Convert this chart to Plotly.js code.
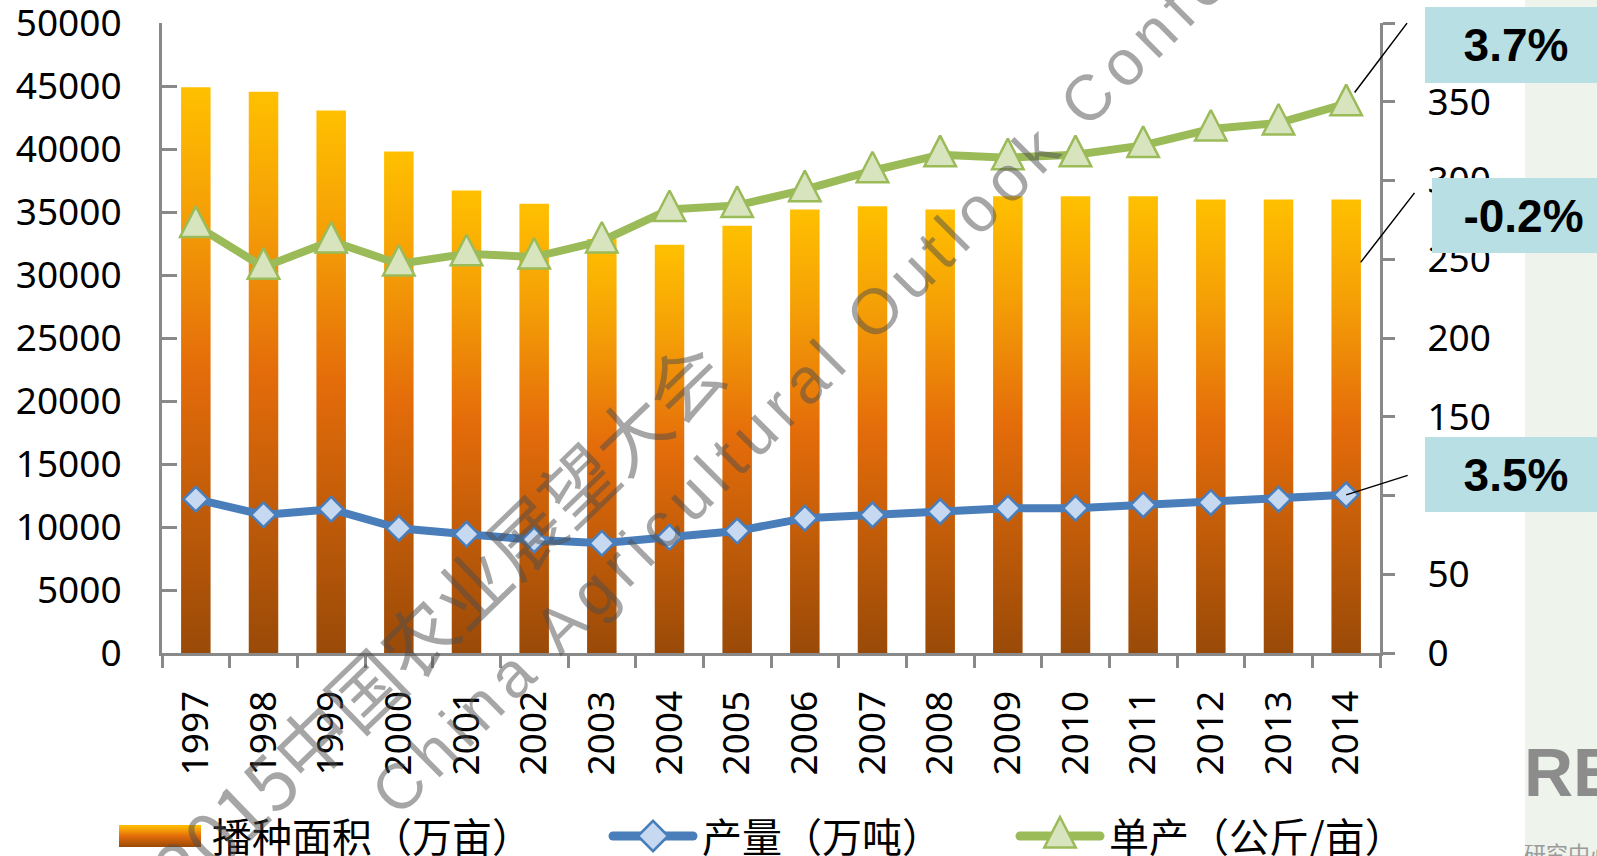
<!DOCTYPE html>
<html>
<head>
<meta charset="utf-8">
<script src="https://cdn.plot.ly/plotly-3.0.1.min.js"></script>
<style>
html,body{margin:0;padding:0;background:#ffffff;}
#chart{width:1597px;height:856px;}
</style>
</head>
<body>
<div id="chart"></div>
<script>
// ---------------- data ----------------
const years = ['1997','1998','1999','2000','2001','2002','2003','2004','2005',
               '2006','2007','2008','2009','2010','2011','2012','2013','2014'];
const areaWanMu = [44900, 44550, 43050, 39800, 36700, 35650, 32850, 32400, 33900,
                   35200, 35450, 35200, 36250, 36250, 36250, 36000, 36000, 36000];
const outputWanTon = [12210, 10960, 11410, 9900, 9430, 8980, 8710, 9190, 9690,
                      10700, 10960, 11220, 11490, 11490, 11760, 11940, 12210, 12550];
const yieldKgPerMu = [271.5, 245.0, 261.6, 247.0, 253.5, 251.4, 261.6, 281.6, 284.2,
                      294.2, 306.2, 316.4, 314.5, 316.4, 322.3, 332.7, 336.5, 348.8];
const seriesNames = ['播种面积（万亩）', '产量（万吨）', '单产（公斤/亩）'];
const growthLabels = ['3.7%', '-0.2%', '3.5%'];
const rightTickVals = [0, 50, 100, 150, 200, 250, 300, 350, 400];
const rightTickText = ['0', '50', '100', '150', '200', '250', '300', '350', ''];
const watermarkCn = '2015中国农业展望大会';
const watermarkEn = 'China Agricultural Outlook Conference';
const logoText = 'RE';
const logoSubText = '研究中心';

// ---------------- styling ----------------
const AXIS_GRAY = '#898989';
const TICK_FONT = {family: 'Noto Sans, Liberation Sans, sans-serif', size: 37, color: '#000'};
const BLUE = '#4a7ebb', BLUE_FILL = '#c6d9f1';
const GREEN = '#9bbb59', GREEN_FILL = '#d7e4bd';
const BOX = '#b8dfe4';
const WM = 'rgba(77,77,77,0.5)';
const lastIdx = years.length - 1;

// plot area in pixels: left 162, right 1380, top 23, bottom 653
const PL = 162, PW = 1218, PT = 23, PH = 630;
const px = v => (v - PL) / PW;
const py = v => (PT + PH - v) / PH;

const traces = [
  {
    type: 'bar', name: seriesNames[0], x: years, y: areaWanMu,
    marker: {color: '#e8800c', line: {width: 0}},
    legendwidth: 387
  },
  {
    type: 'scatter', mode: 'lines+markers', name: seriesNames[1], x: years, y: outputWanTon,
    line: {color: BLUE, width: 8},
    marker: {symbol: 'diamond', size: 19, color: BLUE_FILL, line: {color: BLUE, width: 2.5}},
    legendwidth: 304
  },
  {
    type: 'scatter', mode: 'lines+markers', name: seriesNames[2], x: years, y: yieldKgPerMu,
    yaxis: 'y2',
    line: {color: GREEN, width: 8},
    marker: {symbol: 'triangle-up', size: 30, color: GREEN_FILL, line: {color: GREEN, width: 2.5}},
    legendwidth: 300
  }
];

const boxFont = {family: 'Liberation Sans, Arial, sans-serif', size: 46, color: '#000'};
const leader = {showarrow: true, arrowhead: 0, arrowwidth: 1.5, arrowcolor: '#000', text: '', font: {size: 1}};

const layout = {
  width: 1597, height: 856,
  margin: {l: PL, r: 1597 - PL - PW, t: PT, b: 856 - PT - PH, autoexpand: false},
  paper_bgcolor: '#ffffff', plot_bgcolor: 'rgba(0,0,0,0)',
  bargap: 0.564,
  showlegend: true,
  legend: {
    orientation: 'h', x: px(114), xanchor: 'left', y: py(836), yanchor: 'middle',
    font: {family: 'Noto Sans CJK SC, sans-serif', size: 40, color: '#000'},
    itemwidth: 88, bgcolor: 'rgba(0,0,0,0)', traceorder: 'normal'
  },
  xaxis: {
    type: 'category', range: [-0.5, lastIdx + 0.5],
    showline: true, linecolor: AXIS_GRAY, linewidth: 3,
    ticks: 'outside', ticklen: 12, tickwidth: 3, tickcolor: AXIS_GRAY, tickson: 'boundaries',
    tickangle: -90, tickfont: TICK_FONT, ticklabelstandoff: 20, ticklabeloverflow: 'allow',
    showgrid: false, zeroline: false, fixedrange: true
  },
  yaxis: {
    range: [0, 50000], dtick: 5000, tick0: 0, tickformat: 'd',
    showline: true, linecolor: AXIS_GRAY, linewidth: 3,
    ticks: 'inside', ticklen: 15, tickwidth: 3, tickcolor: AXIS_GRAY,
    tickfont: TICK_FONT, ticklabelstandoff: 30, ticklabeloverflow: 'allow',
    showgrid: false, zeroline: false, fixedrange: true
  },
  yaxis2: {
    overlaying: 'y', side: 'right', range: [0, 400],
    tickmode: 'array', tickvals: rightTickVals, ticktext: rightTickText,
    showline: true, linecolor: AXIS_GRAY, linewidth: 3,
    ticks: 'outside', ticklen: 12, tickwidth: 3, tickcolor: AXIS_GRAY,
    tickfont: TICK_FONT, ticklabelstandoff: 25, ticklabeloverflow: 'allow',
    showgrid: false, zeroline: false, fixedrange: true
  },
  shapes: [
    {type: 'rect', xref: 'paper', yref: 'paper', x0: px(1525), x1: px(1700), y0: py(900), y1: py(-40),
     fillcolor: '#eef3ec', line: {width: 0}, layer: 'below'}
  ],
  annotations: [
    // watermark
    {xref: 'paper', yref: 'paper', x: px(436), y: py(616), xanchor: 'center', yanchor: 'middle',
     text: watermarkCn, textangle: -44, showarrow: false,
     font: {family: 'Noto Sans CJK SC, sans-serif', size: 74, color: WM}},
    {xref: 'paper', yref: 'paper', x: px(872), y: py(314), xanchor: 'center', yanchor: 'middle',
     text: watermarkEn, textangle: -45, showarrow: false,
     font: {family: 'Liberation Sans, Arial, sans-serif', size: 64, color: WM}},
    // background logo
    {xref: 'paper', yref: 'paper', x: px(1522), y: py(772), xanchor: 'left', yanchor: 'middle',
     text: '<b>' + logoText + '</b>', showarrow: false,
     font: {family: 'Liberation Sans, Arial, sans-serif', size: 68, color: '#8c8c8c'}},
    {xref: 'paper', yref: 'paper', x: px(1522), y: py(852), xanchor: 'left', yanchor: 'middle',
     text: logoSubText, showarrow: false,
     font: {family: 'Noto Sans CJK SC, sans-serif', size: 22, color: '#9a9a9a'}},
    // leader lines
    Object.assign({xref: 'x', yref: 'y2', x: lastIdx, y: yieldKgPerMu[lastIdx], ax: 62, ay: -82, standoff: 14}, leader),
    Object.assign({xref: 'x', yref: 'y', x: lastIdx, y: areaWanMu[lastIdx], xshift: 14.5, yshift: -63, ax: 55, ay: -71, standoff: 0}, leader),
    Object.assign({xref: 'x', yref: 'y', x: lastIdx, y: outputWanTon[lastIdx], ax: 63, ay: -20, standoff: 0}, leader),
    // growth boxes
    {xref: 'paper', yref: 'paper', x: px(1425), y: py(7), xanchor: 'left', yanchor: 'top',
     width: 182, height: 76, bgcolor: BOX, borderpad: 0, borderwidth: 0, valign: 'middle', align: 'center',
     text: '<b>' + growthLabels[0] + '</b>', showarrow: false, font: boxFont},
    {xref: 'paper', yref: 'paper', x: px(1432), y: py(178), xanchor: 'left', yanchor: 'top',
     width: 183, height: 75, bgcolor: BOX, borderpad: 0, borderwidth: 0, valign: 'middle', align: 'center',
     text: '<b>' + growthLabels[1] + '</b>', showarrow: false, font: boxFont},
    {xref: 'paper', yref: 'paper', x: px(1425), y: py(437), xanchor: 'left', yanchor: 'top',
     width: 182, height: 75, bgcolor: BOX, borderpad: 0, borderwidth: 0, valign: 'middle', align: 'center',
     text: '<b>' + growthLabels[2] + '</b>', showarrow: false, font: boxFont}
  ]
};

const TRI = 'M0,-19L15.75,11.5H-15.75Z';

function decorate(gd) {
  const ns = 'http://www.w3.org/2000/svg';
  const svg = gd.querySelector('svg.main-svg');
  let defs = svg.querySelector('defs');
  if (!defs) { defs = document.createElementNS(ns, 'defs'); svg.insertBefore(defs, svg.firstChild); }
  const grad = document.createElementNS(ns, 'linearGradient');
  grad.setAttribute('id', 'areaGrad');
  grad.setAttribute('x1', '0'); grad.setAttribute('y1', '0');
  grad.setAttribute('x2', '0'); grad.setAttribute('y2', '1');
  [['0', '#ffc000'], ['0.22', '#f5a006'], ['0.5', '#e46c0a'], ['1', '#9a4a08']].forEach(s => {
    const st = document.createElementNS(ns, 'stop');
    st.setAttribute('offset', s[0]); st.setAttribute('stop-color', s[1]);
    grad.appendChild(st);
  });
  defs.appendChild(grad);

  gd.querySelectorAll('.barlayer .point path').forEach(p => { p.style.fill = 'url(#areaGrad)'; });

  gd.querySelectorAll('.scatterlayer .trace').forEach(t => {
    const d = t.__data__;
    const tr = d && d[0] && d[0].trace;
    if (tr && tr.name === seriesNames[2]) {
      t.querySelectorAll('.points path').forEach(p => p.setAttribute('d', TRI));
    }
  });

  const items = gd.querySelectorAll('.legend .traces');
  items.forEach((it, i) => {
    if (i === 0) {
      it.querySelectorAll('.legendpoints path').forEach(p => {
        p.setAttribute('d', 'M5,-11H87V11H5Z');
        p.setAttribute('transform', 'translate(0,0)');
        p.style.fill = 'url(#areaGrad)';
        p.style.stroke = 'none';
      });
    } else {
      it.querySelectorAll('.legendlines path').forEach(p => {
        p.setAttribute('d', 'M9,0h80');
        p.style.strokeLinecap = 'round';
        p.style.strokeWidth = '9px';
      });
      it.querySelectorAll('.legendpoints path').forEach(p => {
        if (i === 2) {
          p.setAttribute('d', TRI);
          p.setAttribute('transform', 'translate(49,0)');
          p.style.strokeWidth = '2.5px';
        } else {
          p.setAttribute('transform', 'translate(49,0) scale(1.45)');
          p.style.strokeWidth = '1.8px';
        }
      });
    }
  });

  gd.querySelectorAll('.annotation-text').forEach(t => {
    if (t.textContent.indexOf('China') === 0) t.style.letterSpacing = '8px';
  });
}

Plotly.newPlot('chart', traces, layout, {displayModeBar: false, responsive: false, staticPlot: true})
  .then(decorate);
</script>
</body>
</html>
